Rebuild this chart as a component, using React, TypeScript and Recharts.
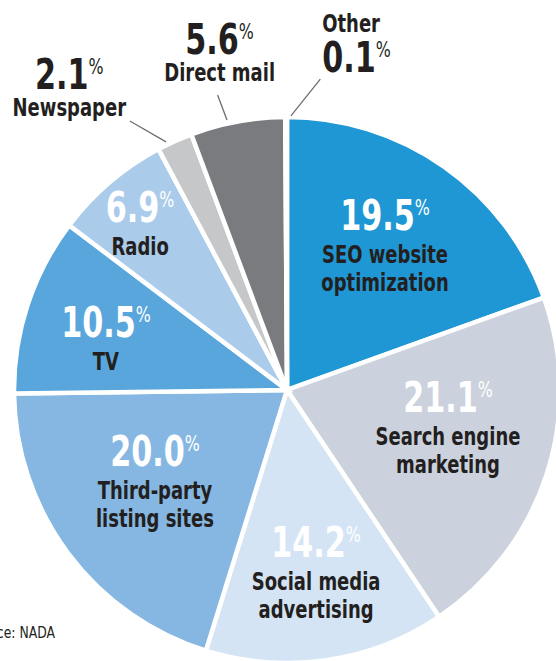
import { PieChart, Pie, Cell } from 'recharts';

const CATEGORIES = [
  'SEO website optimization',
  'Search engine marketing',
  'Social media advertising',
  'Third-party listing sites',
  'TV',
  'Radio',
  'Newspaper',
  'Direct mail',
  'Other',
];
const SHARES = [19.5, 21.1, 14.2, 20.0, 10.5, 6.9, 2.1, 5.6, 0.1];
const NAME_LINES = [
  ['SEO website', 'optimization'],
  ['Search engine', 'marketing'],
  ['Social media', 'advertising'],
  ['Third-party', 'listing sites'],
  ['TV'],
  ['Radio'],
  ['Newspaper'],
  ['Direct mail'],
  ['Other'],
];

const COLORS = ['#1f97d4', '#cbd2dd', '#d4e4f4', '#85b7e2', '#58a6dc', '#abcbeb', '#c6c7c9', '#7a7b7f', '#ffffff'];

// k = fraction of outer radius, dA = degrees added to the slice mid angle
const LABEL_LAYOUT = [
  { k: 0.687, dA: 3.6, inside: true },
  { k: 0.595, dA: 10.4, inside: true },
  { k: 0.621, dA: 1.6, inside: true },
  { k: 0.558, dA: -6.8, inside: true },
  { k: 0.691, dA: 1.9, inside: true },
  { k: 0.817, dA: 0.7, inside: true },
  { k: 1.36, dA: 11.6, inside: false, leader: [1.011, 1.7, 1.141, 6.0] },
  { k: 1.255, dA: 0.9, inside: false, leader: [1.013, 2.1, 1.11, 2.8] },
  { k: 1.172, dA: -6.5, inside: false, nameFirst: true, leader: [1.004, -1.0, 1.145, -6.3] },
];

// no narrow face installed besides DejaVu Sans Condensed, so squeeze it a bit more
const FONT = '"DejaVu Sans Condensed", "Liberation Sans Narrow", sans-serif';
const SQUEEZE = 0.8;
const DARK = '#231f20';
const RAD = Math.PI / 180;

const data = CATEGORIES.map((name, i) => ({ name, value: SHARES[i] }));

function polar(cx: number, cy: number, r: number, angle: number) {
  return [cx + r * Math.cos(-angle * RAD), cy + r * Math.sin(-angle * RAD)];
}

function renderLabel(props: any) {
  const { cx, cy, midAngle, outerRadius, index } = props;
  const lay: any = LABEL_LAYOUT[index];
  const [x, y] = polar(cx, cy, outerRadius * lay.k, midAngle + lay.dA);
  const anchor = lay.nameFirst ? 'start' : 'middle';
  const pctColor = lay.inside ? '#ffffff' : DARK;
  const lines = NAME_LINES[index];
  const nameY = lay.nameFirst ? -40 : lay.inside ? 33 : 27;

  let leader = null;
  if (lay.leader) {
    const [k1, a1, k2, a2] = lay.leader;
    const [x1, y1] = polar(cx, cy, outerRadius * k1, midAngle + a1);
    const [x2, y2] = polar(cx, cy, outerRadius * k2, midAngle + a2);
    leader = <line x1={x1} y1={y1} x2={x2} y2={y2} stroke="#6d6e71" strokeWidth={1.3} />;
  }

  return (
    <g key={`lbl-${index}`}>
      {leader}
      <g transform={`translate(${x},${y}) scale(${SQUEEZE},1)`}>
        <text x={0} y={0} textAnchor={anchor} fontFamily={FONT} fill={pctColor}>
          <tspan fontSize={42} fontWeight={700}>{SHARES[index].toFixed(1)}</tspan>
          <tspan fontSize={22} dy={-15}>%</tspan>
        </text>
        {lines.map((ln, j) => (
          <text
            key={ln}
            x={0}
            y={nameY + j * 28}
            textAnchor={anchor}
            fontFamily={FONT}
            fontSize={25}
            fontWeight={700}
            fill={DARK}
          >
            {ln}
          </text>
        ))}
      </g>
    </g>
  );
}

export default function App() {
  return (
    <div style={{ position: 'absolute', left: 0, top: 0, width: 556, height: 661, background: '#fff', overflow: 'hidden' }}>
      <PieChart width={556} height={661} margin={{ top: 0, right: 0, bottom: 0, left: 0 }}>
        <Pie
          data={data}
          dataKey="value"
          nameKey="name"
          cx={287}
          cy={390}
          outerRadius={273}
          startAngle={90}
          endAngle={-270}
          stroke="#ffffff"
          strokeWidth={4.5}
          label={renderLabel}
          labelLine={false}
          isAnimationActive={false}
        >
          {data.map((d, i) => (
            <Cell key={d.name} fill={COLORS[i]} />
          ))}
        </Pie>
      </PieChart>
      <div
        style={{
          position: 'absolute',
          left: -125,
          top: 624,
          width: 180,
          textAlign: 'right',
          fontFamily: FONT,
          fontSize: 15,
          color: DARK,
          lineHeight: '18px',
          transform: 'scaleX(0.92)',
          transformOrigin: 'right center',
        }}
      >
        Source: NADA
      </div>
    </div>
  );
}
